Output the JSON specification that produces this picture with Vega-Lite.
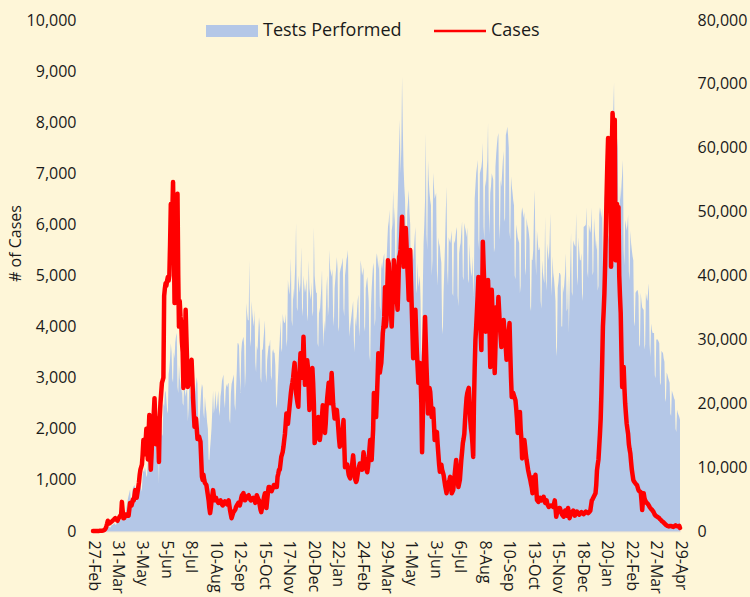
{
"$schema": "https://vega.github.io/schema/vega-lite/v6.json",
"width": 587, "height": 511,
"autosize": {"type": "none"},
"padding": {"left": 93, "top": 20, "right": 70, "bottom": 66},
"background": "#FEF6D8",
"config": {
  "view": {"stroke": null},
  "font": "Open Sans",
  "axis": {"labelFont": "Open Sans", "labelFontSize": 16, "labelColor": "#1a1a1a", "titleFont": "Open Sans", "titleFontSize": 16, "titleFontWeight": "normal", "titleColor": "#1a1a1a", "ticks": false, "grid": false, "domain": false}
},
"data": {"values": [
{"day":0,"cases":0,"tests":0},{"day":1,"cases":0,"tests":10},{"day":2,"cases":0,"tests":16},{"day":3,"cases":0,"tests":24},{"day":4,"cases":0,"tests":40},{"day":5,"cases":0,"tests":50},{"day":6,"cases":0,"tests":70},
{"day":7,"cases":1,"tests":90},{"day":8,"cases":2,"tests":110},{"day":9,"cases":3,"tests":80},{"day":10,"cases":4,"tests":105},{"day":11,"cases":5,"tests":150},{"day":12,"cases":5,"tests":140},{"day":13,"cases":8,"tests":180},
{"day":14,"cases":10,"tests":220},{"day":15,"cases":15,"tests":260},{"day":16,"cases":30,"tests":240},{"day":17,"cases":50,"tests":210},{"day":18,"cases":90,"tests":350},{"day":19,"cases":140,"tests":450},{"day":20,"cases":200,"tests":600},
{"day":21,"cases":170,"tests":650},{"day":22,"cases":150,"tests":700},{"day":23,"cases":160,"tests":500},{"day":24,"cases":175,"tests":640},{"day":25,"cases":180,"tests":900},{"day":26,"cases":195,"tests":950},{"day":27,"cases":210,"tests":1000},
{"day":28,"cases":220,"tests":1100},{"day":29,"cases":240,"tests":1200},{"day":30,"cases":250,"tests":1050},{"day":31,"cases":230,"tests":900},{"day":32,"cases":215,"tests":1400},{"day":33,"cases":200,"tests":1500},{"day":34,"cases":230,"tests":1600},
{"day":35,"cases":260,"tests":1800},{"day":36,"cases":280,"tests":1700},{"day":37,"cases":300,"tests":1600},{"day":38,"cases":330,"tests":1750},{"day":39,"cases":570,"tests":2500},{"day":40,"cases":400,"tests":2300},{"day":41,"cases":250,"tests":2600},
{"day":42,"cases":250,"tests":3000},{"day":43,"cases":290,"tests":2800},{"day":44,"cases":320,"tests":2650},{"day":45,"cases":310,"tests":3600},{"day":46,"cases":300,"tests":4200},{"day":47,"cases":330,"tests":5000},{"day":48,"cases":300,"tests":5500},
{"day":49,"cases":420,"tests":6000},{"day":50,"cases":550,"tests":6500},{"day":51,"cases":520,"tests":4800},{"day":52,"cases":500,"tests":4400},{"day":53,"cases":560,"tests":6200},{"day":54,"cases":620,"tests":6800},{"day":55,"cases":600,"tests":7000},
{"day":56,"cases":700,"tests":7200},{"day":57,"cases":800,"tests":6500},{"day":58,"cases":720,"tests":5400},{"day":59,"cases":650,"tests":5800},{"day":60,"cases":750,"tests":7500},{"day":61,"cases":850,"tests":7000},{"day":62,"cases":950,"tests":7800},
{"day":63,"cases":1100,"tests":8000},{"day":64,"cases":1200,"tests":8500},{"day":65,"cases":1250,"tests":6200},{"day":66,"cases":1300,"tests":6600},{"day":67,"cases":1500,"tests":8800},{"day":68,"cases":1780,"tests":9500},{"day":69,"cases":1600,"tests":9200},
{"day":70,"cases":1500,"tests":10000},{"day":71,"cases":1750,"tests":9500},{"day":72,"cases":2000,"tests":8400},{"day":73,"cases":1700,"tests":8800},{"day":74,"cases":1400,"tests":10800},{"day":75,"cases":1900,"tests":12000},{"day":76,"cases":2270,"tests":11500},
{"day":77,"cases":1600,"tests":12500},{"day":78,"cases":1200,"tests":13000},{"day":79,"cases":1500,"tests":11000},{"day":80,"cases":1900,"tests":10000},{"day":81,"cases":2100,"tests":13500},{"day":82,"cases":2300,"tests":14000},{"day":83,"cases":2600,"tests":14500},
{"day":84,"cases":2200,"tests":14000},{"day":85,"cases":1700,"tests":15000},{"day":86,"cases":2000,"tests":11600},{"day":87,"cases":2200,"tests":12400},{"day":88,"cases":1800,"tests":12000},{"day":89,"cases":1350,"tests":7500},{"day":90,"cases":2200,"tests":16300},
{"day":91,"cases":2500,"tests":17000},{"day":92,"cases":2700,"tests":18000},{"day":93,"cases":2900,"tests":14800},{"day":94,"cases":2950,"tests":15200},{"day":95,"cases":3000,"tests":20000},{"day":96,"cases":4600,"tests":19500},{"day":97,"cases":4750,"tests":21600},
{"day":98,"cases":4850,"tests":22000},{"day":99,"cases":4800,"tests":20500},{"day":100,"cases":4900,"tests":18900},{"day":101,"cases":4970,"tests":18400},{"day":102,"cases":4900,"tests":24500},{"day":103,"cases":5000,"tests":25500},{"day":104,"cases":5600,"tests":27000},
{"day":105,"cases":6400,"tests":29400},{"day":106,"cases":6000,"tests":28000},{"day":107,"cases":6200,"tests":23900},{"day":108,"cases":6830,"tests":23200},{"day":109,"cases":5800,"tests":28000},{"day":110,"cases":4460,"tests":27000},{"day":111,"cases":5200,"tests":29500},
{"day":112,"cases":6000,"tests":30500},{"day":113,"cases":6300,"tests":31000},{"day":114,"cases":6600,"tests":22600},{"day":115,"cases":5000,"tests":21600},{"day":116,"cases":4000,"tests":26000},{"day":117,"cases":4500,"tests":24000},{"day":118,"cases":4200,"tests":23000},
{"day":119,"cases":4070,"tests":21600},{"day":120,"cases":3700,"tests":23000},{"day":121,"cases":3500,"tests":20000},{"day":122,"cases":2800,"tests":19600},{"day":123,"cases":3200,"tests":23600},{"day":124,"cases":3600,"tests":22000},{"day":125,"cases":4330,"tests":21000},
{"day":126,"cases":3800,"tests":22000},{"day":127,"cases":3300,"tests":22400},{"day":128,"cases":2820,"tests":17200},{"day":129,"cases":2900,"tests":19200},{"day":130,"cases":3000,"tests":23500},{"day":131,"cases":3150,"tests":22000},{"day":132,"cases":3250,"tests":21000},
{"day":133,"cases":3350,"tests":21000},{"day":134,"cases":3000,"tests":22000},{"day":135,"cases":2600,"tests":18400},{"day":136,"cases":2300,"tests":17600},{"day":137,"cases":2040,"tests":20000},{"day":138,"cases":2100,"tests":22000},{"day":139,"cases":2200,"tests":23000},
{"day":140,"cases":2000,"tests":24100},{"day":141,"cases":1800,"tests":23000},{"day":142,"cases":1850,"tests":17600},{"day":143,"cases":1850,"tests":16000},{"day":144,"cases":1800,"tests":17900},{"day":145,"cases":1750,"tests":20000},{"day":146,"cases":1400,"tests":22000},
{"day":147,"cases":1060,"tests":23000},{"day":148,"cases":1000,"tests":22500},{"day":149,"cases":1100,"tests":18600},{"day":150,"cases":1000,"tests":17600},{"day":151,"cases":940,"tests":21000},{"day":152,"cases":920,"tests":19500},{"day":153,"cases":900,"tests":18500},
{"day":154,"cases":800,"tests":17000},{"day":155,"cases":700,"tests":16000},{"day":156,"cases":600,"tests":11200},{"day":157,"cases":450,"tests":11100},{"day":158,"cases":350,"tests":13000},{"day":159,"cases":450,"tests":14500},{"day":160,"cases":600,"tests":16300},
{"day":161,"cases":700,"tests":19000},{"day":162,"cases":800,"tests":22000},{"day":163,"cases":700,"tests":18400},{"day":164,"cases":600,"tests":19300},{"day":165,"cases":620,"tests":22000},{"day":166,"cases":650,"tests":20000},{"day":167,"cases":600,"tests":19000},
{"day":168,"cases":580,"tests":20500},{"day":169,"cases":550,"tests":22000},{"day":170,"cases":570,"tests":18900},{"day":171,"cases":590,"tests":18000},{"day":172,"cases":600,"tests":21000},{"day":173,"cases":560,"tests":22000},{"day":174,"cases":520,"tests":23500},
{"day":175,"cases":500,"tests":24000},{"day":176,"cases":530,"tests":24500},{"day":177,"cases":560,"tests":20400},{"day":178,"cases":580,"tests":19200},{"day":179,"cases":560,"tests":22000},{"day":180,"cases":540,"tests":23000},{"day":181,"cases":520,"tests":22500},
{"day":182,"cases":560,"tests":23000},{"day":183,"cases":600,"tests":23200},{"day":184,"cases":500,"tests":17600},{"day":185,"cases":400,"tests":16800},{"day":186,"cases":320,"tests":21500},{"day":187,"cases":250,"tests":23000},{"day":188,"cases":300,"tests":23500},
{"day":189,"cases":350,"tests":24000},{"day":190,"cases":380,"tests":24500},{"day":191,"cases":400,"tests":19900},{"day":192,"cases":420,"tests":18800},{"day":193,"cases":470,"tests":22000},{"day":194,"cases":500,"tests":25000},{"day":195,"cases":520,"tests":29400},
{"day":196,"cases":550,"tests":29400},{"day":197,"cases":520,"tests":29000},{"day":198,"cases":500,"tests":24300},{"day":199,"cases":560,"tests":21600},{"day":200,"cases":650,"tests":28000},{"day":201,"cases":700,"tests":29500},{"day":202,"cases":720,"tests":30000},
{"day":203,"cases":740,"tests":30400},{"day":204,"cases":680,"tests":29000},{"day":205,"cases":600,"tests":22400},{"day":206,"cases":620,"tests":24800},{"day":207,"cases":650,"tests":35700},{"day":208,"cases":670,"tests":34000},{"day":209,"cases":690,"tests":33000},
{"day":210,"cases":700,"tests":33000},{"day":211,"cases":650,"tests":42400},{"day":212,"cases":620,"tests":30000},{"day":213,"cases":600,"tests":28800},{"day":214,"cases":620,"tests":36000},{"day":215,"cases":640,"tests":34100},{"day":216,"cases":650,"tests":33000},
{"day":217,"cases":620,"tests":32000},{"day":218,"cases":600,"tests":34600},{"day":219,"cases":550,"tests":26400},{"day":220,"cases":620,"tests":24800},{"day":221,"cases":700,"tests":29000},{"day":222,"cases":660,"tests":28300},{"day":223,"cases":620,"tests":31000},
{"day":224,"cases":600,"tests":33500},{"day":225,"cases":500,"tests":32000},{"day":226,"cases":420,"tests":24000},{"day":227,"cases":370,"tests":23200},{"day":228,"cases":450,"tests":28500},{"day":229,"cases":550,"tests":28300},{"day":230,"cases":600,"tests":30000},
{"day":231,"cases":680,"tests":31500},{"day":232,"cases":740,"tests":33000},{"day":233,"cases":600,"tests":24800},{"day":234,"cases":450,"tests":23200},{"day":235,"cases":600,"tests":26800},{"day":236,"cases":750,"tests":28000},{"day":237,"cases":860,"tests":29000},
{"day":238,"cases":860,"tests":29000},{"day":239,"cases":820,"tests":30000},{"day":240,"cases":800,"tests":24300},{"day":241,"cases":780,"tests":23600},{"day":242,"cases":820,"tests":28000},{"day":243,"cases":850,"tests":28500},{"day":244,"cases":900,"tests":27900},
{"day":245,"cases":880,"tests":27900},{"day":246,"cases":870,"tests":26000},{"day":247,"cases":860,"tests":20000},{"day":248,"cases":860,"tests":19200},{"day":249,"cases":1060,"tests":22600},{"day":250,"cases":1120,"tests":25000},{"day":251,"cases":1200,"tests":28000},
{"day":252,"cases":1200,"tests":30000},{"day":253,"cases":1320,"tests":33000},{"day":254,"cases":1450,"tests":28600},{"day":255,"cases":1500,"tests":28000},{"day":256,"cases":1550,"tests":34000},{"day":257,"cases":1650,"tests":33000},{"day":258,"cases":1780,"tests":32600},
{"day":259,"cases":1900,"tests":32600},{"day":260,"cases":2100,"tests":34000},{"day":261,"cases":2300,"tests":28800},{"day":262,"cases":2200,"tests":30000},{"day":263,"cases":2100,"tests":39300},{"day":264,"cases":2250,"tests":38000},{"day":265,"cases":2400,"tests":37000},
{"day":266,"cases":2550,"tests":39000},{"day":267,"cases":2700,"tests":42700},{"day":268,"cases":2820,"tests":33000},{"day":269,"cases":2900,"tests":32000},{"day":270,"cases":3000,"tests":38000},{"day":271,"cases":3150,"tests":36200},{"day":272,"cases":3290,"tests":39000},
{"day":273,"cases":3000,"tests":42000},{"day":274,"cases":2700,"tests":48200},{"day":275,"cases":2600,"tests":35000},{"day":276,"cases":2500,"tests":34400},{"day":277,"cases":2430,"tests":40000},{"day":278,"cases":2900,"tests":38500},{"day":279,"cases":3200,"tests":37300},
{"day":280,"cases":3480,"tests":39000},{"day":281,"cases":3200,"tests":44500},{"day":282,"cases":3000,"tests":35000},{"day":283,"cases":3300,"tests":33600},{"day":284,"cases":3800,"tests":40000},{"day":285,"cases":3300,"tests":38500},{"day":286,"cases":2860,"tests":37300},
{"day":287,"cases":3000,"tests":38000},{"day":288,"cases":3200,"tests":39500},{"day":289,"cases":3340,"tests":32800},{"day":290,"cases":3200,"tests":33900},{"day":291,"cases":2800,"tests":42400},{"day":292,"cases":2370,"tests":38000},{"day":293,"cases":2600,"tests":37000},
{"day":294,"cases":2900,"tests":36200},{"day":295,"cases":3050,"tests":39000},{"day":296,"cases":3190,"tests":33600},{"day":297,"cases":2900,"tests":34400},{"day":298,"cases":2500,"tests":47600},{"day":299,"cases":1720,"tests":40000},{"day":300,"cases":1800,"tests":38500},
{"day":301,"cases":1900,"tests":37300},{"day":302,"cases":2000,"tests":37300},{"day":303,"cases":2100,"tests":29400},{"day":304,"cases":2230,"tests":28800},{"day":305,"cases":2000,"tests":35000},{"day":306,"cases":1780,"tests":34100},{"day":307,"cases":1900,"tests":36000},
{"day":308,"cases":2100,"tests":38000},{"day":309,"cases":2250,"tests":40900},{"day":310,"cases":2460,"tests":32700},{"day":311,"cases":2300,"tests":28800},{"day":312,"cases":2100,"tests":33000},{"day":313,"cases":1920,"tests":31000},{"day":314,"cases":2100,"tests":34000},
{"day":315,"cases":2400,"tests":38000},{"day":316,"cases":2600,"tests":40000},{"day":317,"cases":2750,"tests":33600},{"day":318,"cases":2900,"tests":35200},{"day":319,"cases":2700,"tests":44000},{"day":320,"cases":2500,"tests":41000},{"day":321,"cases":2800,"tests":40500},
{"day":322,"cases":3090,"tests":39800},{"day":323,"cases":2800,"tests":41000},{"day":324,"cases":2500,"tests":33600},{"day":325,"cases":2350,"tests":32000},{"day":326,"cases":2200,"tests":38000},{"day":327,"cases":2250,"tests":39500},{"day":328,"cases":2300,"tests":41000},
{"day":329,"cases":2370,"tests":42900},{"day":330,"cases":2200,"tests":41000},{"day":331,"cases":2000,"tests":31200},{"day":332,"cases":1800,"tests":32000},{"day":333,"cases":1650,"tests":40400},{"day":334,"cases":1750,"tests":41000},{"day":335,"cases":1850,"tests":41500},
{"day":336,"cases":1900,"tests":42000},{"day":337,"cases":2000,"tests":42800},{"day":338,"cases":2170,"tests":34800},{"day":339,"cases":1700,"tests":33600},{"day":340,"cases":1250,"tests":40000},{"day":341,"cases":1270,"tests":41000},{"day":342,"cases":1290,"tests":42500},
{"day":343,"cases":1300,"tests":43000},{"day":344,"cases":1200,"tests":44000},{"day":345,"cases":1100,"tests":34400},{"day":346,"cases":1060,"tests":30400},{"day":347,"cases":1030,"tests":32000},{"day":348,"cases":1100,"tests":33000},{"day":349,"cases":1200,"tests":34000},
{"day":350,"cases":1350,"tests":35000},{"day":351,"cases":1480,"tests":36000},{"day":352,"cases":1300,"tests":29800},{"day":353,"cases":1100,"tests":28000},{"day":354,"cases":1000,"tests":33500},{"day":355,"cases":960,"tests":32000},{"day":356,"cases":1000,"tests":34000},
{"day":357,"cases":1100,"tests":36000},{"day":358,"cases":1200,"tests":37000},{"day":359,"cases":1260,"tests":30400},{"day":360,"cases":1320,"tests":32000},{"day":361,"cases":1280,"tests":42400},{"day":362,"cases":1240,"tests":41500},{"day":363,"cases":1200,"tests":40000},
{"day":364,"cases":1350,"tests":40500},{"day":365,"cases":1540,"tests":41300},{"day":366,"cases":1450,"tests":32000},{"day":367,"cases":1380,"tests":31200},{"day":368,"cases":1300,"tests":38000},{"day":369,"cases":1200,"tests":39000},{"day":370,"cases":1150,"tests":39800},
{"day":371,"cases":1250,"tests":38000},{"day":372,"cases":1400,"tests":36000},{"day":373,"cases":1600,"tests":27600},{"day":374,"cases":1780,"tests":26400},{"day":375,"cases":1600,"tests":35000},{"day":376,"cases":1390,"tests":38000},{"day":377,"cases":1700,"tests":40000},
{"day":378,"cases":2000,"tests":42000},{"day":379,"cases":2700,"tests":41000},{"day":380,"cases":2550,"tests":32000},{"day":381,"cases":2400,"tests":33200},{"day":382,"cases":2230,"tests":42500},{"day":383,"cases":2600,"tests":43500},{"day":384,"cases":3000,"tests":42500},
{"day":385,"cases":3480,"tests":41000},{"day":386,"cases":3300,"tests":42500},{"day":387,"cases":3100,"tests":35200},{"day":388,"cases":3200,"tests":34400},{"day":389,"cases":3290,"tests":42000},{"day":390,"cases":3550,"tests":41000},{"day":391,"cases":3870,"tests":42000},
{"day":392,"cases":4000,"tests":42900},{"day":393,"cases":4200,"tests":43500},{"day":394,"cases":4770,"tests":35600},{"day":395,"cases":4000,"tests":34400},{"day":396,"cases":4130,"tests":42000},{"day":397,"cases":4700,"tests":45000},{"day":398,"cases":5300,"tests":47600},
{"day":399,"cases":5240,"tests":48500},{"day":400,"cases":4900,"tests":50300},{"day":401,"cases":4600,"tests":40200},{"day":402,"cases":4300,"tests":38000},{"day":403,"cases":4000,"tests":47000},{"day":404,"cases":4400,"tests":48000},{"day":405,"cases":4800,"tests":53400},
{"day":406,"cases":5300,"tests":48000},{"day":407,"cases":5150,"tests":50700},{"day":408,"cases":5000,"tests":40600},{"day":409,"cases":4750,"tests":39200},{"day":410,"cases":4500,"tests":47000},{"day":411,"cases":4330,"tests":51000},{"day":412,"cases":4800,"tests":55500},
{"day":413,"cases":5360,"tests":60000},{"day":414,"cases":5400,"tests":64400},{"day":415,"cases":5500,"tests":56000},{"day":416,"cases":5800,"tests":60000},{"day":417,"cases":6150,"tests":71100},{"day":418,"cases":5700,"tests":63000},{"day":419,"cases":5170,"tests":57000},
{"day":420,"cases":5300,"tests":54000},{"day":421,"cases":5500,"tests":52000},{"day":422,"cases":5930,"tests":45200},{"day":423,"cases":5600,"tests":42400},{"day":424,"cases":5200,"tests":50000},{"day":425,"cases":4900,"tests":51500},{"day":426,"cases":4520,"tests":53400},
{"day":427,"cases":5000,"tests":50000},{"day":428,"cases":5500,"tests":48000},{"day":429,"cases":4900,"tests":36500},{"day":430,"cases":4400,"tests":36000},{"day":431,"cases":3900,"tests":44000},{"day":432,"cases":3380,"tests":42400},{"day":433,"cases":3600,"tests":44000},
{"day":434,"cases":3800,"tests":46000},{"day":435,"cases":4330,"tests":47600},{"day":436,"cases":3900,"tests":37200},{"day":437,"cases":3500,"tests":38000},{"day":438,"cases":3200,"tests":42000},{"day":439,"cases":2900,"tests":38200},{"day":440,"cases":3100,"tests":39000},
{"day":441,"cases":3290,"tests":40000},{"day":442,"cases":3000,"tests":36000},{"day":443,"cases":2500,"tests":27000},{"day":444,"cases":1540,"tests":29000},{"day":445,"cases":2200,"tests":38000},{"day":446,"cases":3000,"tests":45000},{"day":447,"cases":3600,"tests":48000},
{"day":448,"cases":4190,"tests":51800},{"day":449,"cases":3700,"tests":62300},{"day":450,"cases":3200,"tests":46400},{"day":451,"cases":2800,"tests":44000},{"day":452,"cases":2300,"tests":58000},{"day":453,"cases":2500,"tests":55000},{"day":454,"cases":2800,"tests":53000},
{"day":455,"cases":2720,"tests":51800},{"day":456,"cases":2500,"tests":51000},{"day":457,"cases":2230,"tests":40000},{"day":458,"cases":2300,"tests":42400},{"day":459,"cases":2400,"tests":56100},{"day":460,"cases":2100,"tests":54000},{"day":461,"cases":1780,"tests":52000},
{"day":462,"cases":1790,"tests":52500},{"day":463,"cases":1800,"tests":52900},{"day":464,"cases":1940,"tests":40800},{"day":465,"cases":1700,"tests":38400},{"day":466,"cases":1500,"tests":46000},{"day":467,"cases":1300,"tests":45000},{"day":468,"cases":1160,"tests":44500},
{"day":469,"cases":1250,"tests":43000},{"day":470,"cases":1300,"tests":42000},{"day":471,"cases":1200,"tests":32000},{"day":472,"cases":1150,"tests":30800},{"day":473,"cases":1100,"tests":37300},{"day":474,"cases":1000,"tests":41000},{"day":475,"cases":900,"tests":45000},
{"day":476,"cases":820,"tests":50000},{"day":477,"cases":740,"tests":53900},{"day":478,"cases":820,"tests":40800},{"day":479,"cases":900,"tests":38400},{"day":480,"cases":950,"tests":46000},{"day":481,"cases":1000,"tests":45500},{"day":482,"cases":1060,"tests":45100},
{"day":483,"cases":900,"tests":46000},{"day":484,"cases":740,"tests":47000},{"day":485,"cases":770,"tests":37200},{"day":486,"cases":800,"tests":36800},{"day":487,"cases":950,"tests":45500},{"day":488,"cases":1100,"tests":45000},{"day":489,"cases":1250,"tests":46000},
{"day":490,"cases":1390,"tests":47000},{"day":491,"cases":1200,"tests":47600},{"day":492,"cases":1000,"tests":36800},{"day":493,"cases":860,"tests":35200},{"day":494,"cases":930,"tests":43500},{"day":495,"cases":1000,"tests":44500},{"day":496,"cases":1200,"tests":45100},
{"day":497,"cases":1400,"tests":47000},{"day":498,"cases":1550,"tests":48500},{"day":499,"cases":1720,"tests":39800},{"day":500,"cases":1800,"tests":39200},{"day":501,"cases":1900,"tests":48200},{"day":502,"cases":2170,"tests":47500},{"day":503,"cases":2400,"tests":47000},
{"day":504,"cases":2600,"tests":46000},{"day":505,"cases":2700,"tests":47500},{"day":506,"cases":2750,"tests":38800},{"day":507,"cases":2800,"tests":39400},{"day":508,"cases":2500,"tests":45000},{"day":509,"cases":2170,"tests":42000},{"day":510,"cases":2000,"tests":40500},
{"day":511,"cases":1900,"tests":39800},{"day":512,"cases":1700,"tests":43000},{"day":513,"cases":1450,"tests":36800},{"day":514,"cases":2500,"tests":39800},{"day":515,"cases":3200,"tests":52000},{"day":516,"cases":3740,"tests":54000},{"day":517,"cases":4000,"tests":56000},
{"day":518,"cases":4300,"tests":57000},{"day":519,"cases":4600,"tests":58100},{"day":520,"cases":4970,"tests":45600},{"day":521,"cases":4600,"tests":44000},{"day":522,"cases":4300,"tests":56000},{"day":523,"cases":3900,"tests":56500},{"day":524,"cases":3540,"tests":57000},
{"day":525,"cases":4500,"tests":58000},{"day":526,"cases":5660,"tests":60800},{"day":527,"cases":5200,"tests":47600},{"day":528,"cases":4800,"tests":45600},{"day":529,"cases":4300,"tests":55000},{"day":530,"cases":3900,"tests":53900},{"day":531,"cases":4100,"tests":56000},
{"day":532,"cases":4300,"tests":58000},{"day":533,"cases":4910,"tests":63900},{"day":534,"cases":4500,"tests":50400},{"day":535,"cases":4000,"tests":46400},{"day":536,"cases":3210,"tests":52900},{"day":537,"cases":4000,"tests":54000},{"day":538,"cases":4720,"tests":56000},
{"day":539,"cases":4300,"tests":55500},{"day":540,"cases":4000,"tests":55000},{"day":541,"cases":3500,"tests":43600},{"day":542,"cases":3090,"tests":44400},{"day":543,"cases":3600,"tests":57000},{"day":544,"cases":4380,"tests":59000},{"day":545,"cases":4300,"tests":60500},
{"day":546,"cases":4200,"tests":61700},{"day":547,"cases":4580,"tests":62300},{"day":548,"cases":4300,"tests":48000},{"day":549,"cases":4000,"tests":45600},{"day":550,"cases":3800,"tests":55000},{"day":551,"cases":3600,"tests":53900},{"day":552,"cases":3750,"tests":56000},
{"day":553,"cases":3900,"tests":58000},{"day":554,"cases":4130,"tests":59500},{"day":555,"cases":3950,"tests":48400},{"day":556,"cases":3800,"tests":49000},{"day":557,"cases":3580,"tests":62000},{"day":558,"cases":3350,"tests":62500},{"day":559,"cases":3500,"tests":63300},
{"day":560,"cases":3700,"tests":62000},{"day":561,"cases":3900,"tests":60000},{"day":562,"cases":4070,"tests":46800},{"day":563,"cases":3500,"tests":45600},{"day":564,"cases":3000,"tests":55500},{"day":565,"cases":2620,"tests":54000},{"day":566,"cases":2650,"tests":53000},
{"day":567,"cases":2700,"tests":51800},{"day":568,"cases":2650,"tests":51000},{"day":569,"cases":2600,"tests":40000},{"day":570,"cases":2560,"tests":39400},{"day":571,"cases":2400,"tests":48000},{"day":572,"cases":2200,"tests":47000},{"day":573,"cases":1920,"tests":46000},
{"day":574,"cases":2000,"tests":45500},{"day":575,"cases":2100,"tests":45100},{"day":576,"cases":2330,"tests":37200},{"day":577,"cases":2000,"tests":38400},{"day":578,"cases":1800,"tests":49500},{"day":579,"cases":1420,"tests":50700},{"day":580,"cases":1500,"tests":50000},
{"day":581,"cases":1600,"tests":49000},{"day":582,"cases":1780,"tests":50000},{"day":583,"cases":1650,"tests":41100},{"day":584,"cases":1500,"tests":40000},{"day":585,"cases":1390,"tests":49000},{"day":586,"cases":1300,"tests":48000},{"day":587,"cases":1200,"tests":47500},
{"day":588,"cases":1130,"tests":46700},{"day":589,"cases":1060,"tests":45500},{"day":590,"cases":1000,"tests":35200},{"day":591,"cases":920,"tests":34400},{"day":592,"cases":850,"tests":42500},{"day":593,"cases":740,"tests":42400},{"day":594,"cases":1050,"tests":44000},
{"day":595,"cases":900,"tests":50000},{"day":596,"cases":1000,"tests":53400},{"day":597,"cases":1100,"tests":42700},{"day":598,"cases":850,"tests":40000},{"day":599,"cases":610,"tests":47000},{"day":600,"cases":590,"tests":45500},{"day":601,"cases":570,"tests":44000},
{"day":602,"cases":600,"tests":44000},{"day":603,"cases":650,"tests":44500},{"day":604,"cases":620,"tests":36000},{"day":605,"cases":600,"tests":34800},{"day":606,"cases":610,"tests":42400},{"day":607,"cases":640,"tests":40500},{"day":608,"cases":670,"tests":39500},
{"day":609,"cases":620,"tests":38800},{"day":610,"cases":550,"tests":49200},{"day":611,"cases":580,"tests":39400},{"day":612,"cases":600,"tests":37600},{"day":613,"cases":530,"tests":45000},{"day":614,"cases":500,"tests":43500},{"day":615,"cases":470,"tests":42400},
{"day":616,"cases":480,"tests":45000},{"day":617,"cases":490,"tests":49800},{"day":618,"cases":500,"tests":39800},{"day":619,"cases":490,"tests":36800},{"day":620,"cases":480,"tests":43000},{"day":621,"cases":470,"tests":40400},{"day":622,"cases":530,"tests":39500},
{"day":623,"cases":600,"tests":38000},{"day":624,"cases":450,"tests":36000},{"day":625,"cases":280,"tests":27300},{"day":626,"cases":350,"tests":28800},{"day":627,"cases":400,"tests":38000},{"day":628,"cases":420,"tests":39000},{"day":629,"cases":450,"tests":40400},
{"day":630,"cases":450,"tests":40400},{"day":631,"cases":400,"tests":40000},{"day":632,"cases":350,"tests":32000},{"day":633,"cases":320,"tests":32000},{"day":634,"cases":300,"tests":38500},{"day":635,"cases":280,"tests":37300},{"day":636,"cases":340,"tests":39000},
{"day":637,"cases":400,"tests":40500},{"day":638,"cases":350,"tests":43500},{"day":639,"cases":300,"tests":34400},{"day":640,"cases":380,"tests":34800},{"day":641,"cases":450,"tests":40000},{"day":642,"cases":350,"tests":31000},{"day":643,"cases":250,"tests":37000},
{"day":644,"cases":300,"tests":42000},{"day":645,"cases":350,"tests":46700},{"day":646,"cases":370,"tests":37400},{"day":647,"cases":380,"tests":36800},{"day":648,"cases":400,"tests":45500},{"day":649,"cases":350,"tests":45000},{"day":650,"cases":300,"tests":44700},
{"day":651,"cases":330,"tests":44500},{"day":652,"cases":350,"tests":49800},{"day":653,"cases":380,"tests":39800},{"day":654,"cases":360,"tests":38400},{"day":655,"cases":340,"tests":46000},{"day":656,"cases":320,"tests":44000},{"day":657,"cases":340,"tests":42400},
{"day":658,"cases":355,"tests":42400},{"day":659,"cases":370,"tests":43500},{"day":660,"cases":350,"tests":36000},{"day":661,"cases":340,"tests":37200},{"day":662,"cases":330,"tests":47600},{"day":663,"cases":350,"tests":47700},{"day":664,"cases":365,"tests":47800},
{"day":665,"cases":380,"tests":48000},{"day":666,"cases":370,"tests":50700},{"day":667,"cases":360,"tests":40600},{"day":668,"cases":350,"tests":39600},{"day":669,"cases":365,"tests":48000},{"day":670,"cases":380,"tests":47300},{"day":671,"cases":400,"tests":46700},
{"day":672,"cases":500,"tests":47800},{"day":673,"cases":600,"tests":50700},{"day":674,"cases":620,"tests":40000},{"day":675,"cases":650,"tests":40600},{"day":676,"cases":680,"tests":49000},{"day":677,"cases":710,"tests":47000},{"day":678,"cases":740,"tests":45500},
{"day":679,"cases":900,"tests":44000},{"day":680,"cases":1190,"tests":45500},{"day":681,"cases":1300,"tests":37600},{"day":682,"cases":1400,"tests":38400},{"day":683,"cases":1650,"tests":49500},{"day":684,"cases":1900,"tests":50700},{"day":685,"cases":2200,"tests":50000},
{"day":686,"cases":2700,"tests":49000},{"day":687,"cases":3300,"tests":50500},{"day":688,"cases":4000,"tests":41400},{"day":689,"cases":4300,"tests":42000},{"day":690,"cases":4650,"tests":52000},{"day":691,"cases":5200,"tests":53000},{"day":692,"cases":5900,"tests":54000},
{"day":693,"cases":6600,"tests":55500},{"day":694,"cases":7200,"tests":56500},{"day":695,"cases":7690,"tests":45600},{"day":696,"cases":7300,"tests":46400},{"day":697,"cases":7400,"tests":60000},{"day":698,"cases":7590,"tests":63300},{"day":699,"cases":5170,"tests":61000},
{"day":700,"cases":7500,"tests":60000},{"day":701,"cases":8180,"tests":63000},{"day":702,"cases":7900,"tests":66000},{"day":703,"cases":7800,"tests":70200},{"day":704,"cases":8050,"tests":56000},{"day":705,"cases":5300,"tests":52000},{"day":706,"cases":6000,"tests":63900},
{"day":707,"cases":6400,"tests":61500},{"day":708,"cases":6200,"tests":60000},{"day":709,"cases":6340,"tests":46500},{"day":710,"cases":5000,"tests":44800},{"day":711,"cases":4600,"tests":54000},{"day":712,"cases":4270,"tests":51800},{"day":713,"cases":3500,"tests":54000},
{"day":714,"cases":2820,"tests":56000},{"day":715,"cases":3000,"tests":58100},{"day":716,"cases":3210,"tests":44000},{"day":717,"cases":2800,"tests":41600},{"day":718,"cases":2500,"tests":48700},{"day":719,"cases":2300,"tests":48000},{"day":720,"cases":2110,"tests":47000},
{"day":721,"cases":2000,"tests":48000},{"day":722,"cases":1900,"tests":49500},{"day":723,"cases":1700,"tests":40600},{"day":724,"cases":1600,"tests":39200},{"day":725,"cases":1520,"tests":47000},{"day":726,"cases":1350,"tests":45100},{"day":727,"cases":1200,"tests":44000},
{"day":728,"cases":1100,"tests":43000},{"day":729,"cases":1000,"tests":42400},{"day":730,"cases":970,"tests":32800},{"day":731,"cases":950,"tests":32000},{"day":732,"cases":930,"tests":37300},{"day":733,"cases":910,"tests":37500},{"day":734,"cases":900,"tests":37700},
{"day":735,"cases":850,"tests":37700},{"day":736,"cases":800,"tests":36800},{"day":737,"cases":780,"tests":28800},{"day":738,"cases":770,"tests":29200},{"day":739,"cases":760,"tests":37300},{"day":740,"cases":600,"tests":36000},{"day":741,"cases":410,"tests":35000},
{"day":742,"cases":600,"tests":34800},{"day":743,"cases":740,"tests":34600},{"day":744,"cases":650,"tests":28400},{"day":745,"cases":600,"tests":29200},{"day":746,"cases":570,"tests":37300},{"day":747,"cases":550,"tests":36500},{"day":748,"cases":540,"tests":36000},
{"day":749,"cases":520,"tests":37500},{"day":750,"cases":500,"tests":38800},{"day":751,"cases":470,"tests":29200},{"day":752,"cases":450,"tests":27200},{"day":753,"cases":430,"tests":32500},{"day":754,"cases":420,"tests":31500},{"day":755,"cases":400,"tests":31000},
{"day":756,"cases":380,"tests":31000},{"day":757,"cases":350,"tests":31000},{"day":758,"cases":320,"tests":24400},{"day":759,"cases":300,"tests":23900},{"day":760,"cases":290,"tests":30000},{"day":761,"cases":280,"tests":30000},{"day":762,"cases":270,"tests":30000},
{"day":763,"cases":260,"tests":29700},{"day":764,"cases":250,"tests":29400},{"day":765,"cases":230,"tests":23200},{"day":766,"cases":220,"tests":22800},{"day":767,"cases":200,"tests":28200},{"day":768,"cases":190,"tests":28000},{"day":769,"cases":180,"tests":27900},
{"day":770,"cases":165,"tests":27000},{"day":771,"cases":150,"tests":26500},{"day":772,"cases":135,"tests":20800},{"day":773,"cases":120,"tests":20200},{"day":774,"cases":110,"tests":24800},{"day":775,"cases":100,"tests":24500},{"day":776,"cases":95,"tests":24000},
{"day":777,"cases":90,"tests":23600},{"day":778,"cases":95,"tests":23200},{"day":779,"cases":100,"tests":18400},{"day":780,"cases":100,"tests":18000},{"day":781,"cases":90,"tests":22000},{"day":782,"cases":85,"tests":21600},{"day":783,"cases":80,"tests":21200},
{"day":784,"cases":90,"tests":20800},{"day":785,"cases":100,"tests":20500},{"day":786,"cases":110,"tests":16000},{"day":787,"cases":100,"tests":15500},{"day":788,"cases":95,"tests":19000},{"day":789,"cases":90,"tests":18500},{"day":790,"cases":95,"tests":18200},
{"day":791,"cases":100,"tests":17900},{"day":792,"cases":60,"tests":17400}
]},
"encoding": {
  "x": {"field": "day", "type": "quantitative", "scale": {"domain": [0, 792], "nice": false, "zero": false},
    "axis": {"orient": "bottom", "title": null, "domain": true, "domainColor": "#D9D9D9", "domainWidth": 1.5,
      "values": [0,33,66,99,132,165,198,231,264,297,330,363,396,429,462,495,528,561,594,627,660,693,726,759,792],
      "labelExpr": "timeFormat(datetime(2020, 1, 27 + datum.value), '%-d-%b')",
      "labelAngle": 90, "labelAlign": "left", "labelBaseline": "middle", "labelPadding": 9, "labelFlush": false, "labelOverlap": false, "labelBound": false, "labelSeparation": 0}}
},
"layer": [
  {
    "mark": {"type": "area", "interpolate": "linear"},
    "encoding": {
      "y": {"field": "tests", "type": "quantitative", "scale": {"domain": [0, 80000], "nice": false},
        "axis": {"orient": "right", "title": null, "values": [0,10000,20000,30000,40000,50000,60000,70000,80000], "format": ",.0f", "labelPadding": 17}},
      "color": {"datum": "Tests Performed", "type": "nominal",
        "scale": {"domain": ["Tests Performed", "Cases"], "range": ["#B4C7E7", "#FF0000"]},
        "legend": {"orient": "none", "legendX": 113, "legendY": -15, "direction": "horizontal", "title": null,
          "symbolSize": 2704, "symbolType": "M-1,-0.23H1V0.23H-1Z", "symbolStrokeWidth": 0,
          "labelFont": "Open Sans", "labelFontSize": 18, "labelColor": "#1a1a1a", "labelOffset": 5, "columnPadding": 32,
          "encode": {"symbols": {"update": {
            "shape": {"signal": "datum.value === 'Cases' ? 'M-1,-0.05H1V0.05H-1Z' : 'M-1,-0.23H1V0.23H-1Z'"},
            "fill": {"signal": "datum.value === 'Cases' ? '#FF0000' : '#B4C7E7'"},
            "strokeWidth": {"value": 0}, "opacity": {"value": 1}}}}}}
    }
  },
  {
    "mark": {"type": "line", "strokeWidth": 4.5, "strokeJoin": "round", "strokeCap": "round"},
    "encoding": {
      "y": {"field": "cases", "type": "quantitative", "scale": {"domain": [0, 10000], "nice": false},
        "axis": {"orient": "left", "title": "# of Cases", "values": [0,1000,2000,3000,4000,5000,6000,7000,8000,9000,10000], "format": ",.0f", "labelPadding": 17,
          "titleAngle": -90, "titleX": -78, "titleY": 223, "titleAlign": "center", "titleBaseline": "middle"}},
      "color": {"datum": "Cases", "type": "nominal"}
    }
  }
],
"resolve": {"scale": {"y": "independent"}}
}
